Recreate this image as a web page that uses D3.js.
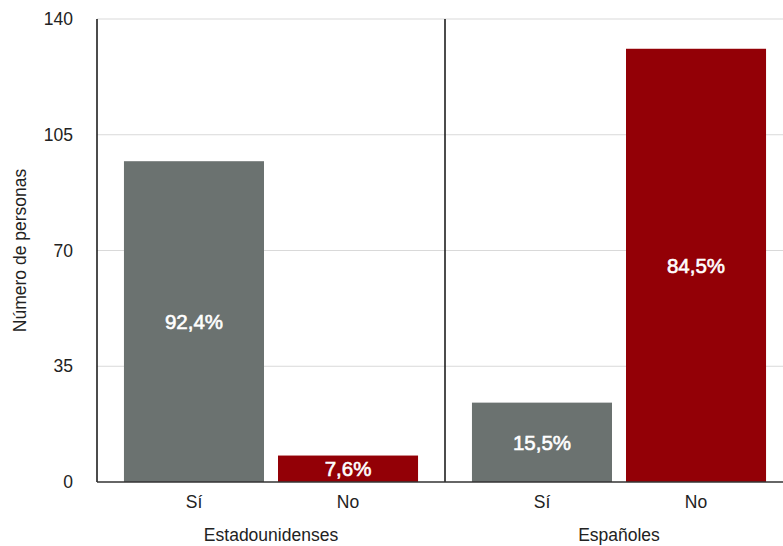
<!DOCTYPE html>
<html>
<head>
<meta charset="utf-8">
<script src="https://cdn.jsdelivr.net/npm/d3@7"></script>
<style>
  html, body { margin: 0; padding: 0; background: #fff; }
  svg { display: block; font-family: "Liberation Sans", Arial, Helvetica, sans-serif; }
</style>
</head>
<body>
<svg id="chart" width="783" height="546"></svg>
<script>
// ---- data ----
const groups = ["Estadounidenses", "Españoles"];
const answers = ["Sí", "No"];
const counts = [
  [97, 8],    // Estadounidenses: Sí, No
  [24, 131]   // Españoles: Sí, No
];
const percentLabels = [
  ["92,4%", "7,6%"],
  ["15,5%", "84,5%"]
];
const yTicks = [0, 35, 70, 105, 140];
const yTitle = "Número de personas";
const answerColors = ["#6b7270", "#930006"];

// ---- layout ----
const svg = d3.select("#chart");
const mLeft = 97, mRight = 793, mTop = 19, mBottom = 482;

const y = d3.scaleLinear().domain([0, 140]).range([mBottom, mTop]);
const xGroup = d3.scaleBand().domain(groups).range([mLeft, mRight]).padding(0);
const xAns = d3.scaleBand().domain(answers).range([0, xGroup.bandwidth()])
  .paddingInner(0.0909).paddingOuter(0.175);

// gridlines
svg.append("g").selectAll("line")
  .data(yTicks.filter(t => t > 0))
  .join("line")
  .attr("x1", mLeft).attr("x2", 783)
  .attr("y1", d => y(d)).attr("y2", d => y(d))
  .attr("stroke", "#d9d9d9").attr("stroke-width", 1.2);

// bars
const data = [];
groups.forEach((g, gi) => answers.forEach((a, ai) => {
  data.push({ g, a, ai, v: counts[gi][ai], label: percentLabels[gi][ai] });
}));

svg.append("g").selectAll("rect")
  .data(data)
  .join("rect")
  .attr("x", d => xGroup(d.g) + xAns(d.a))
  .attr("width", xAns.bandwidth())
  .attr("y", d => y(d.v))
  .attr("height", d => y(0) - y(d.v))
  .attr("fill", d => answerColors[d.ai]);

// value labels
svg.append("g").selectAll("text")
  .data(data)
  .join("text")
  .attr("x", d => xGroup(d.g) + xAns(d.a) + xAns.bandwidth() / 2)
  .attr("y", d => (y(d.v) + y(0)) / 2)
  .attr("dy", "0.36em")
  .attr("text-anchor", "middle")
  .attr("fill", "#ffffff")
  .attr("stroke", "#ffffff")
  .attr("stroke-width", 0.6)
  .attr("font-size", 20.5)
  .text(d => d.label);

// y axis
const yAxis = d3.axisLeft(y).tickValues(yTicks).tickSize(0).tickPadding(24);
const ya = svg.append("g").attr("transform", `translate(${mLeft},0)`).call(yAxis);
ya.select(".domain").remove();
ya.selectAll("text").attr("font-size", 17.5).attr("fill", "#222")
  .attr("font-family", "Liberation Sans, Arial, sans-serif");

// left axis line
svg.append("line").attr("x1", mLeft).attr("x2", mLeft)
  .attr("y1", mTop).attr("y2", mBottom)
  .attr("stroke", "#111").attr("stroke-width", 1.5);

// group dividers
svg.append("g").selectAll("line")
  .data(groups.slice(1))
  .join("line")
  .attr("x1", d => xGroup(d)).attr("x2", d => xGroup(d))
  .attr("y1", mTop).attr("y2", mBottom)
  .attr("stroke", "#111").attr("stroke-width", 1.5);

// baseline
svg.append("line").attr("x1", mLeft).attr("x2", 783)
  .attr("y1", y(0)).attr("y2", y(0))
  .attr("stroke", "#333").attr("stroke-width", 1.5);

// category labels
const cat = [];
groups.forEach(g => answers.forEach(a => cat.push({ g, a })));
svg.append("g").selectAll("text")
  .data(cat)
  .join("text")
  .attr("x", d => xGroup(d.g) + xAns(d.a) + xAns.bandwidth() / 2)
  .attr("y", 502)
  .attr("dy", "0.35em")
  .attr("text-anchor", "middle")
  .attr("font-size", 17.5)
  .attr("fill", "#222")
  .text(d => d.a);

// group labels
svg.append("g").selectAll("text")
  .data(groups)
  .join("text")
  .attr("x", d => xGroup(d) + xGroup.bandwidth() / 2)
  .attr("y", 535)
  .attr("dy", "0.35em")
  .attr("text-anchor", "middle")
  .attr("font-size", 17.5)
  .attr("fill", "#222")
  .text(d => d);

// y title
svg.append("text")
  .attr("transform", `translate(20,${(mTop + mBottom) / 2}) rotate(-90)`)
  .attr("dy", "0.35em")
  .attr("text-anchor", "middle")
  .attr("font-size", 17.5)
  .attr("fill", "#222")
  .text(yTitle);
</script>
</body>
</html>
